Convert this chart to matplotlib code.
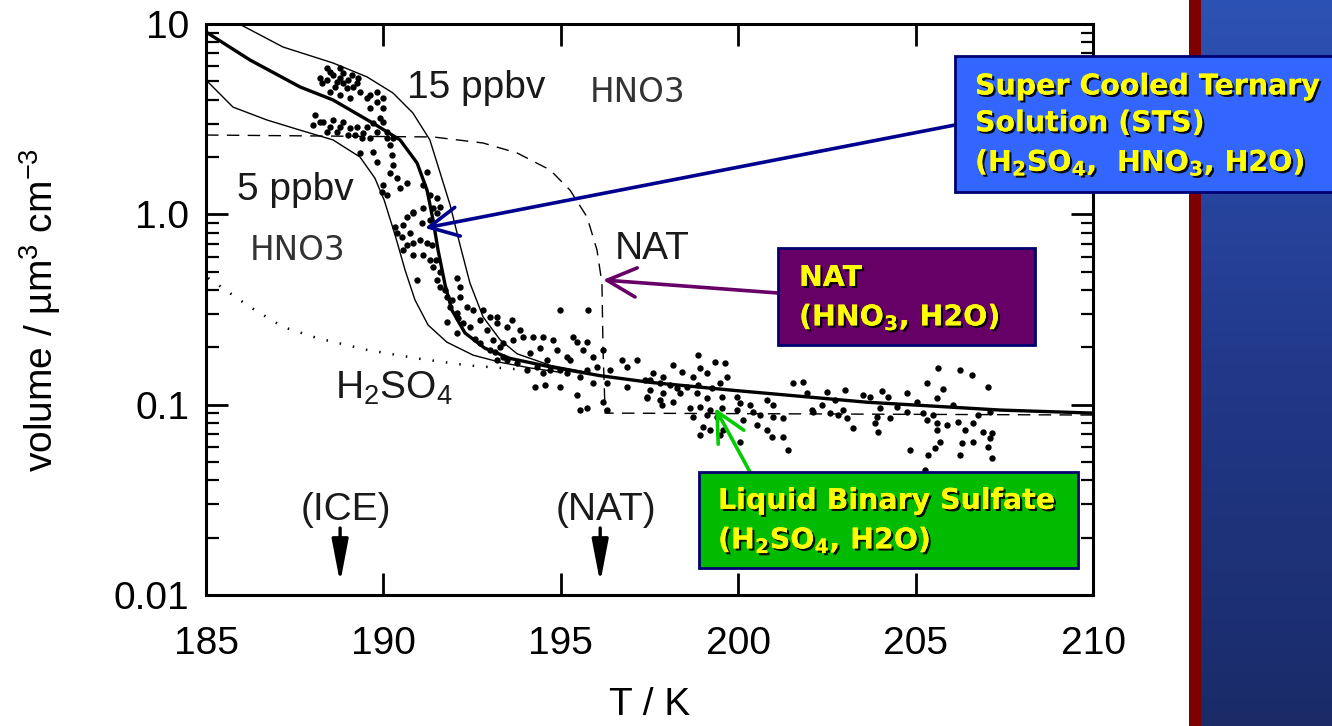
import matplotlib
matplotlib.use('Agg')
import matplotlib.pyplot as plt
import matplotlib.patheffects as pe
from matplotlib.patches import Rectangle
from matplotlib.colors import LinearSegmentedColormap
from matplotlib.ticker import LogLocator, NullFormatter, NullLocator
import numpy as np

plt.rcParams['font.family'] = ['Liberation Sans', 'DejaVu Sans']
plt.rcParams['mathtext.fontset'] = 'custom'
plt.rcParams['mathtext.rm'] = 'Liberation Sans'
plt.rcParams['mathtext.it'] = 'Liberation Sans:italic'
plt.rcParams['mathtext.bf'] = 'Liberation Sans:bold'

# ---- model curves (T in K, volume in um^3 cm^-3) ----
sts_T = [185.0, 186.24, 187.65, 188.58, 189.71, 190.47, 190.95, 191.23, 191.40, 191.54,
         191.74, 191.93, 192.30, 192.86, 193.57, 194.70, 196.11, 197.51, 199.85, 203.63,
         207.38, 210.0]
sts_V = [9.08, 6.47, 4.67, 3.99, 3.01, 2.46, 1.86, 1.34, 0.933, 0.649,
         0.425, 0.314, 0.238, 0.198, 0.175, 0.158, 0.142, 0.131, 0.119, 0.103,
         0.0937, 0.0903]

hno3_15_T = [185.68, 187.17, 188.58, 189.54, 190.27, 190.83, 191.31, 191.60, 191.88, 192.16,
             192.44, 192.81, 193.29, 193.77, 194.70, 195.82]
hno3_15_V = [10.6, 7.57, 6.24, 5.27, 4.34, 3.41, 2.46, 1.65, 1.12, 0.69,
             0.435, 0.289, 0.219, 0.185, 0.161, 0.147]

hno3_5_T = [185.0, 185.76, 186.72, 187.65, 188.58, 189.34, 189.76, 190.02, 190.33, 190.61,
            190.89, 191.26, 191.79, 192.53, 193.29, 194.13, 194.98]
hno3_5_V = [5.08, 3.66, 3.13, 2.77, 2.46, 2.0, 1.55, 1.19, 0.778, 0.51,
            0.355, 0.262, 0.213, 0.182, 0.167, 0.156, 0.148]

h2so4_T = [185.06, 186.24, 187.17, 188.13, 189.54, 190.95, 192.36, 193.29, 194.41]
h2so4_V = [0.463, 0.326, 0.256, 0.224, 0.194, 0.175, 0.161, 0.156, 0.150]

nat_T = [185.0, 191.40, 192.81, 193.77, 194.70, 195.26, 195.74, 196.02, 196.16, 196.19,
         196.25, 210.0]
nat_V = [2.61, 2.55, 2.37, 2.10, 1.71, 1.34, 0.968, 0.649, 0.435, 0.194,
         0.0903, 0.0882]

# ---- observations (T, volume) ----
obs_cold = [(188.78, 5.87), (188.58, 5.40), (188.86, 5.53), (188.41, 5.08), (188.27, 4.90),
            (188.69, 4.96), (189.00, 5.08), (189.14, 4.67), (189.28, 5.20), (189.34, 4.39),
            (188.49, 4.39), (188.78, 4.24), (189.06, 4.08), (189.54, 4.08), (189.82, 3.89),
            (189.62, 3.62), (189.99, 3.62), (189.90, 3.21), (188.07, 3.32), (188.02, 2.95),
            (188.30, 3.05), (188.49, 2.87), (188.69, 2.71), (188.86, 3.05), (189.06, 2.84),
            (189.20, 2.61), (189.43, 2.67), (189.62, 2.52), (189.82, 2.71), (189.34, 2.10),
            (189.71, 2.13), (189.82, 1.88), (190.19, 2.31), (190.24, 2.05), (190.27, 1.82),
            (190.10, 2.52), (190.19, 1.65), (190.38, 1.55), (189.99, 1.43), (189.96, 1.31),
            (190.10, 1.26), (190.67, 1.46), (190.47, 1.37), (191.23, 1.67), (191.12, 1.43),
            (191.31, 1.26), (191.51, 1.22), (190.83, 1.03), (191.12, 1.08), (191.40, 1.08),
            (188.41, 5.87), (188.21, 5.20), (188.97, 4.61), (188.49, 5.60), (188.78, 5.20),
            (189.11, 5.40), (189.25, 4.90), (188.64, 4.67), (188.86, 4.90), (188.21, 3.05),
            (188.41, 2.71), (188.58, 3.13), (188.78, 2.87), (189.25, 2.87), (189.54, 2.87),
            (189.71, 3.01), (189.99, 3.05), (189.00, 2.61), (189.40, 2.52), (190.10, 2.71),
            (190.27, 2.52), (189.62, 4.24), (189.99, 4.08), (189.82, 4.39)]
obs_drop = [(190.83, 1.02), (190.67, 0.968), (190.55, 0.879), (190.33, 0.858), (190.38, 0.798),
            (190.52, 0.760), (190.75, 0.798), (190.83, 0.707), (190.67, 0.690), (191.03, 0.733),
            (191.23, 0.707), (191.09, 0.900), (191.31, 0.933), (191.51, 1.02), (191.60, 1.09),
            (190.55, 0.649), (190.83, 0.611), (191.12, 0.611), (191.31, 0.575), (190.95, 0.452),
            (191.40, 0.528), (191.51, 0.452), (191.60, 0.415), (191.79, 0.367), (192.07, 0.463),
            (192.16, 0.415), (192.16, 0.367), (191.88, 0.326), (192.07, 0.303), (192.36, 0.326),
            (192.53, 0.314), (192.24, 0.268), (192.44, 0.256), (192.72, 0.278), (192.92, 0.247),
            (191.79, 0.272), (192.07, 0.238), (193.09, 0.219), (193.29, 0.201), (193.37, 0.178),
            (193.00, 0.194), (192.72, 0.211), (193.20, 0.289), (193.48, 0.256), (191.37, 0.690),
            (191.48, 0.575), (191.60, 0.500), (191.74, 0.400), (191.93, 0.355), (192.10, 0.284),
            (192.58, 0.222), (193.15, 0.189)]
obs_knee = [(194.98, 0.314), (195.77, 0.314), (193.62, 0.278), (193.00, 0.289), (192.81, 0.314),
            (193.20, 0.268), (193.85, 0.247), (193.93, 0.227), (193.65, 0.219), (193.37, 0.211),
            (194.22, 0.227), (194.50, 0.227), (194.78, 0.219), (194.41, 0.198), (194.89, 0.194),
            (194.13, 0.187), (195.34, 0.227), (195.46, 0.213), (195.74, 0.213), (195.63, 0.194),
            (195.17, 0.178), (195.26, 0.171), (194.61, 0.171), (195.91, 0.178), (196.19, 0.194),
            (196.73, 0.171), (197.15, 0.171), (196.87, 0.158), (196.39, 0.152), (196.02, 0.158),
            (195.74, 0.152), (195.54, 0.140), (195.17, 0.147), (194.98, 0.152), (194.70, 0.152),
            (194.50, 0.147), (194.33, 0.158), (194.05, 0.152), (193.77, 0.165), (193.48, 0.171),
            (193.20, 0.171), (194.27, 0.124), (194.55, 0.127), (194.98, 0.124), (195.46, 0.112),
            (195.54, 0.0937), (195.74, 0.0960), (196.19, 0.103), (196.30, 0.0937), (195.91, 0.130),
            (196.30, 0.130), (196.87, 0.124), (197.43, 0.110), (197.51, 0.135)]
obs_mid = [(198.87, 0.182), (198.16, 0.161), (199.35, 0.167), (199.63, 0.165), (198.92, 0.156),
           (197.60, 0.147), (197.88, 0.140), (198.42, 0.148), (198.73, 0.140), (199.12, 0.147),
           (199.68, 0.140), (197.37, 0.135), (197.80, 0.130), (198.08, 0.127), (198.28, 0.122),
           (198.56, 0.124), (198.87, 0.127), (199.26, 0.122), (199.49, 0.130), (197.51, 0.119),
           (197.88, 0.115), (198.36, 0.115), (198.84, 0.115), (197.43, 0.108), (197.80, 0.106),
           (198.16, 0.103), (199.12, 0.108), (199.54, 0.110), (199.97, 0.110), (200.05, 0.102),
           (200.81, 0.106), (200.98, 0.0995), (200.33, 0.0995), (201.55, 0.130), (201.83, 0.131),
           (201.94, 0.115), (197.85, 0.0995), (198.64, 0.0960), (198.92, 0.0971), (199.21, 0.0937),
           (199.54, 0.0960), (198.73, 0.0861), (199.12, 0.0882), (199.40, 0.0861), (199.97, 0.0937),
           (200.14, 0.0830), (200.42, 0.0914), (200.61, 0.0882), (200.98, 0.0861), (201.26, 0.0851),
           (202.08, 0.0937), (199.01, 0.0763), (199.57, 0.0735), (198.92, 0.0692), (199.21, 0.0735),
           (200.53, 0.0781), (200.81, 0.0735), (200.95, 0.0676), (201.26, 0.0676), (200.05, 0.0636),
           (201.40, 0.0577), (199.49, 0.0692)]
obs_warm = [(205.63, 0.156), (206.25, 0.152), (206.59, 0.143), (205.32, 0.130), (207.04, 0.124),
            (205.77, 0.121), (203.01, 0.119), (202.50, 0.116), (204.05, 0.118), (203.52, 0.112),
            (203.71, 0.110), (204.76, 0.115), (204.22, 0.110), (202.73, 0.106), (205.04, 0.103),
            (205.60, 0.108), (206.05, 0.0995), (204.48, 0.0971), (204.76, 0.0914), (202.36, 0.0995),
            (202.11, 0.0914), (202.59, 0.0903), (202.81, 0.0882), (203.07, 0.0851), (202.95, 0.0937),
            (204.00, 0.0960), (203.91, 0.0861), (203.86, 0.0800), (203.94, 0.0718), (204.28, 0.0851),
            (203.24, 0.0753), (205.21, 0.0903), (205.32, 0.0830), (205.49, 0.0882), (205.60, 0.0800),
            (205.60, 0.0735), (205.89, 0.0781), (206.20, 0.0810), (206.62, 0.0800), (206.76, 0.0882),
            (207.10, 0.0914), (206.39, 0.0735), (206.90, 0.0718), (207.15, 0.0709), (207.10, 0.0668),
            (206.31, 0.0628), (206.62, 0.0636), (205.69, 0.0636), (205.55, 0.0591), (204.84, 0.0577),
            (205.35, 0.0543), (206.25, 0.0543), (207.04, 0.0599), (207.15, 0.0524), (205.27, 0.0453)]

# frost points marked with arrows
frost_T = [188.78, 196.11]
frost_labels = ['(ICE)', '(NAT)']

x_ticks = [185, 190, 195, 200, 205, 210]
y_ticks = [0.01, 0.1, 1.0, 10]
y_tick_labels = ['0.01', '0.1', '1.0', '10']

W, H = 1332, 726
fig = plt.figure(figsize=(W / 100, H / 100), dpi=100, facecolor='white')

# slide decoration on the right
panel = fig.add_axes([1201 / W, 0, 131 / W, 1])
grad = np.linspace(0, 1, 256).reshape(-1, 1)
panel.imshow(grad, aspect='auto', extent=[0, 1, 1, 0],
             cmap=LinearSegmentedColormap.from_list('p', ['#2D52B5', '#22398A', '#1A2B68']))
panel.axis('off')
fig.patches.append(Rectangle((1189 / W, 0), 12 / W, 1, transform=fig.transFigure,
                             facecolor='#7F0000', edgecolor='none', zorder=1))

ax = fig.add_axes([206 / W, 1 - 595 / H, 887 / W, 571 / H])
ax.set_yscale('log')

ax.plot(hno3_15_T, hno3_15_V, color='black', lw=1.0)
ax.plot(hno3_5_T, hno3_5_V, color='black', lw=1.0)
ax.plot(h2so4_T, h2so4_V, color='black', lw=1.8, linestyle=(0, (0.6, 4.8)))
ax.plot(nat_T, nat_V, color='black', lw=1.0, linestyle=(0, (9, 6)))
ax.plot(sts_T, sts_V, color='black', lw=2.4)

for grp in [obs_cold, obs_drop, obs_knee, obs_mid, obs_warm]:
    gt, gv = zip(*grp)
    ax.scatter(gt, gv, s=21, color='black', lw=0, zorder=3)

ax.set_xlim(185, 210)
ax.set_ylim(0.01, 10)
ax.set_xticks(x_ticks)
ax.set_xticklabels([str(t) for t in x_ticks])
ax.set_yticks(y_ticks)
ax.set_yticklabels(y_tick_labels)
ax.xaxis.set_minor_locator(NullLocator())
ax.yaxis.set_minor_locator(LogLocator(base=10, subs=np.arange(2, 10)))
ax.yaxis.set_minor_formatter(NullFormatter())
ax.tick_params(which='major', direction='in', length=16, width=2, top=True, right=True,
               labelsize=28, colors='black')
ax.tick_params(axis='x', pad=22)
ax.tick_params(axis='y', pad=12)
ax.tick_params(which='minor', direction='in', length=9, width=1.6, right=True)
for s in ax.spines.values():
    s.set_linewidth(2.2)

# labels inside the plot
lab = dict(fontsize=28, color='#1a1a1a', va='center', ha='left')
ax.text(190.67, 4.61, '15 ppbv', **lab)
ax.text(185.87, 1.34, '5 ppbv', **lab)
ax.text(196.53, 0.66, 'NAT', **lab)
ax.text(188.64, 0.108, r'H$_2$SO$_4$', fontsize=28, color='#1a1a1a', va='baseline', ha='left')
hno = dict(fontsize=23.5, color='#333333', va='center', ha='left', family='DejaVu Sans')
ax.text(195.82, 4.39, 'HNO3', **hno)
ax.text(186.24, 0.649, 'HNO3', **hno)

for t, s in zip(frost_T, frost_labels):
    ax.text(t + 0.17, 0.0279, s, fontsize=28, color='#1a1a1a', ha='center', va='center')
    ax.annotate('', xy=(t, 0.0116), xytext=(t, 0.0225),
                arrowprops=dict(arrowstyle='-|>,head_length=1.3,head_width=0.25',
                                color='black', lw=2.4, mutation_scale=20, shrinkA=0, shrinkB=0))

fig.text(650 / W, 1 - 705 / H, 'T / K', fontsize=28, ha='center', va='center')
fig.text(40 / W, 1 - 310 / H, r'volume / µm$^3$ cm$^{-3}$', fontsize=28, ha='center',
         va='center', rotation=90)

# annotation boxes
shadow = [pe.withSimplePatchShadow(offset=(1.6, -1.6), shadow_rgbFace='black', alpha=0.9),
          pe.Normal()]
box_font = dict(fontsize=20.5, fontweight='bold', color='#FFFF00', family='DejaVu Sans',
                math_fontfamily='dejavusans', ha='left', va='center', linespacing=1.4,
                path_effects=shadow, zorder=5)

def add_box(x0, y0, x1, y1, color):
    fig.patches.append(Rectangle((x0 / W, 1 - y1 / H), (x1 - x0) / W, (y1 - y0) / H,
                                 transform=fig.transFigure, facecolor=color,
                                 edgecolor='#000070', lw=2, zorder=2))

add_box(955, 56, 1345, 192, '#3366FF')
fig.text(975 / W, 1 - 125 / H,
         'Super Cooled Ternary\nSolution (STS)\n'
         r'(H$_\mathbf{2}$SO$_\mathbf{4}$,  HNO$_\mathbf{3}$, H2O)', **box_font)
add_box(778, 248, 1035, 345, '#660066')
fig.text(799 / W, 1 - 298 / H, 'NAT\n' r'(HNO$_\mathbf{3}$, H2O)', **box_font)
add_box(699, 472, 1078, 568, '#00BB00')
fig.text(718 / W, 1 - 521 / H,
         'Liquid Binary Sulfate\n' r'(H$_\mathbf{2}$SO$_\mathbf{4}$, H2O)', **box_font)

arrow = dict(arrowstyle='->,head_length=0.7,head_width=0.35', lw=2.6, mutation_scale=30,
             shrinkA=0, shrinkB=0)
ax.annotate('', xy=(191.17, 0.847), xytext=(955 / W, 1 - 125 / H),
            textcoords='figure fraction', annotation_clip=False,
            arrowprops=dict(color='#00008F', **arrow))
ax.annotate('', xy=(196.19, 0.452), xytext=(778 / W, 1 - 293 / H),
            textcoords='figure fraction', annotation_clip=False,
            arrowprops=dict(color='#660066', **arrow))
ax.annotate('', xy=(199.35, 0.096), xytext=(750 / W, 1 - 472 / H),
            textcoords='figure fraction', annotation_clip=False,
            arrowprops=dict(color='#00CC00', **arrow))

fig.savefig('out.png', dpi=100, facecolor='white')
